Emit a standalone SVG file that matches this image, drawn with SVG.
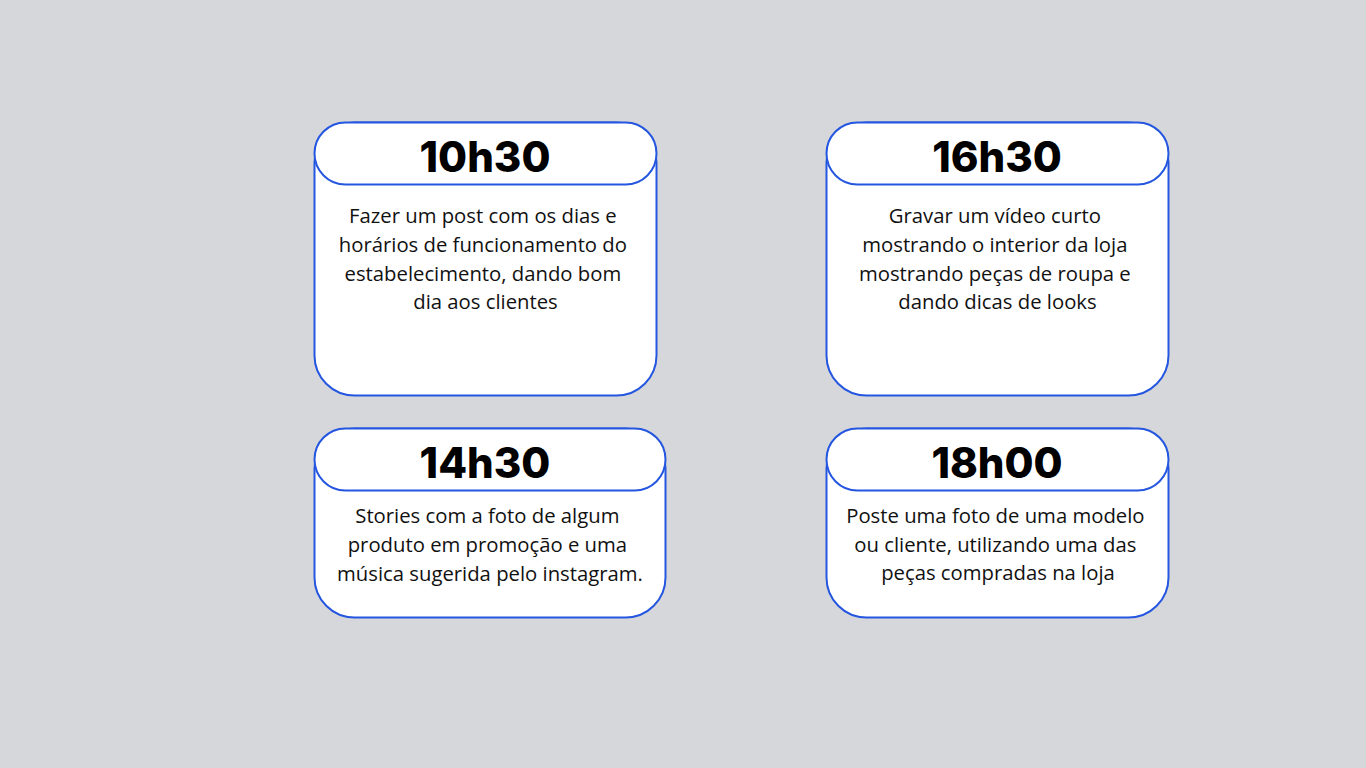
<svg xmlns="http://www.w3.org/2000/svg" width="1366" height="768" viewBox="0 0 1366 768">
  <style>
    .card { fill: #ffffff; stroke: #2456e0; stroke-width: 2; }
    .time { font-family: Inter, "Liberation Sans", sans-serif; font-weight: 800; font-size: 42px; fill: #000000; text-anchor: middle; }
    .body { font-family: "Open Sans", "Liberation Sans", sans-serif; font-size: 20.3px; fill: #111111; text-anchor: middle; }
  </style>
  <rect width="1366" height="768" fill="#d6d7db"/>

  <g id="slot-1030">
    <rect class="card" x="314.5" y="122.5" width="342" height="273" rx="40"/>
    <rect class="card" x="314.5" y="122.5" width="342" height="62" rx="31"/>
    <text class="time" x="485" y="172">10h30</text>
    <text class="body">
      <tspan x="485.5" y="223">Fazer um post com os dias e</tspan>
      <tspan x="485.5" y="252">horários de funcionamento do</tspan>
      <tspan x="485.5" y="281">estabelecimento, dando bom</tspan>
      <tspan x="485.5" y="309">dia aos clientes</tspan>
    </text>
  </g>

  <g id="slot-1430">
    <rect class="card" x="314.5" y="428.5" width="351" height="189" rx="40"/>
    <rect class="card" x="314.5" y="428.5" width="351" height="62" rx="31"/>
    <text class="time" x="485" y="478">14h30</text>
    <text class="body">
      <tspan x="490" y="523">Stories com a foto de algum</tspan>
      <tspan x="490" y="552">produto em promoção e uma</tspan>
      <tspan x="490" y="581">música sugerida pelo instagram.</tspan>
    </text>
  </g>

  <g id="slot-1630">
    <rect class="card" x="826.5" y="122.5" width="342" height="273" rx="40"/>
    <rect class="card" x="826.5" y="122.5" width="342" height="62" rx="31"/>
    <text class="time" x="997" y="172">16h30</text>
    <text class="body">
      <tspan x="997.5" y="223">Gravar um vídeo curto</tspan>
      <tspan x="997.5" y="252">mostrando o interior da loja</tspan>
      <tspan x="997.5" y="281">mostrando peças de roupa e</tspan>
      <tspan x="997.5" y="309">dando dicas de looks</tspan>
    </text>
  </g>

  <g id="slot-1800">
    <rect class="card" x="826.5" y="428.5" width="342" height="189" rx="40"/>
    <rect class="card" x="826.5" y="428.5" width="342" height="62" rx="31"/>
    <text class="time" x="997" y="478">18h00</text>
    <text class="body">
      <tspan x="998" y="523">Poste uma foto de uma modelo</tspan>
      <tspan x="998" y="552">ou cliente, utilizando uma das</tspan>
      <tspan x="998" y="580">peças compradas na loja</tspan>
    </text>
  </g>

  <g id="connectors"></g>
</svg>
